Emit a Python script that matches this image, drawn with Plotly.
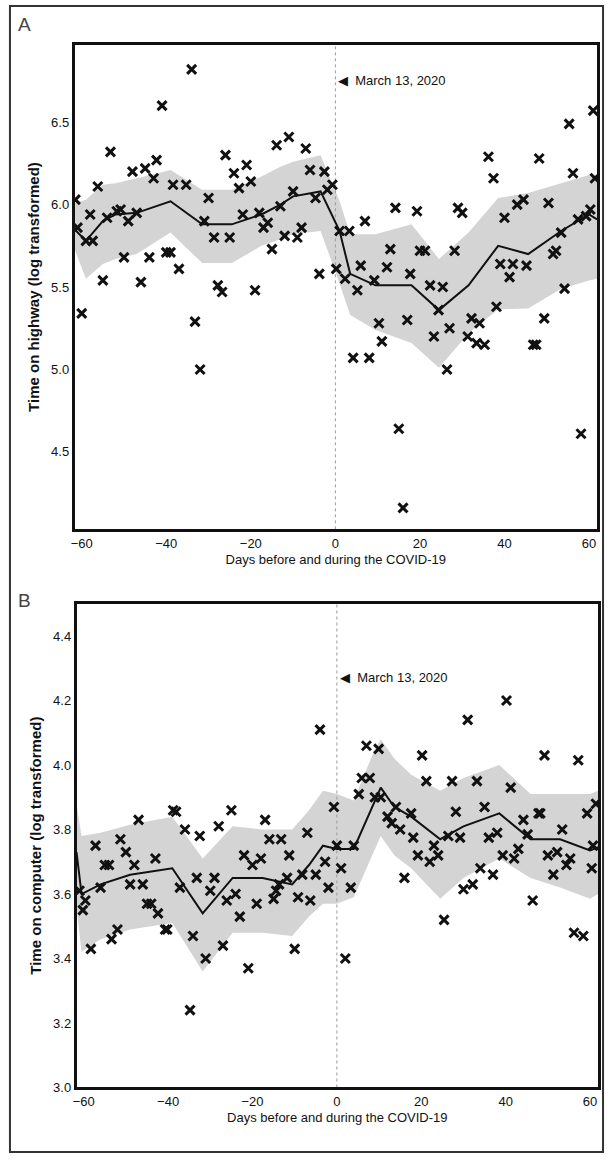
import plotly.graph_objects as go

# ---------------- Panel A: time on highway ----------------
a_days = [-61.5, -61, -60, -59, -58, -57.4, -56.2, -55, -54, -53.2, -51.7, -50.8, -50, -49, -48, -47, -46, -45,
          -44, -43, -42.3, -41, -40, -39, -38.4, -37, -35.3, -34, -33.2, -32, -31, -30, -28.7, -27.8, -26.8, -26,
          -25, -24, -22.8, -21.9, -21, -20, -19, -18, -17, -16, -15, -13.9, -13, -12, -11, -10, -9, -8, -7, -6,
          -4.7, -3.8, -2.6, -1.9, -0.7, 0.2, 1, 2.3, 3.3, 4.2, 5.2, 6, 7, 8, 9.2, 10.3, 11, 12.2, 13, 14.2, 15,
          16, 17, 17.7, 19.3, 20, 21.2, 22.4, 23.3, 24.4, 25.4, 26.4, 27, 28.2, 29, 30, 31.3, 32.2, 33.4, 34.1,
          35.3, 36.2, 37.4, 38.1, 39, 40, 41.2, 42, 43, 44.5, 45.2, 46.8, 47.5, 48.2, 49.4, 50.4, 51.5, 52.2,
          53.4, 54.2, 55.3, 56.2, 57.4, 58.1, 59.3, 60.3, 61, 61.4]
a_vals = [6.03, 5.86, 5.34, 5.78, 5.94, 5.78, 6.11, 5.54, 5.92, 6.32, 5.96, 5.97, 5.68, 5.90, 6.20, 5.95, 5.53, 6.22,
          5.68, 6.16, 6.27, 6.60, 5.71, 5.71, 6.12, 5.61, 6.12, 6.82, 5.29, 5.00, 5.90, 6.04, 5.80, 5.51, 5.47, 6.30,
          5.80, 6.19, 6.10, 5.94, 6.24, 6.14, 5.48, 5.95, 5.86, 5.89, 5.73, 6.36, 5.99, 5.81, 6.41, 6.08, 5.80, 5.86,
          6.34, 6.21, 6.04, 5.58, 6.20, 6.09, 6.12, 5.61, 5.84, 5.55, 5.84, 5.07, 5.48, 5.63, 5.90, 5.07, 5.54, 5.28,
          5.17, 5.62, 5.73, 5.98, 4.64, 4.16, 5.30, 5.58, 5.96, 5.72, 5.72, 5.51, 5.20, 5.36, 5.50, 5.00, 5.25, 5.72,
          5.98, 5.95, 5.20, 5.31, 5.16, 5.28, 5.15, 6.29, 6.16, 5.38, 5.64, 5.92, 5.56, 5.64, 6.00, 6.03, 5.63, 5.15,
          5.15, 6.28, 5.31, 6.01, 5.70, 5.72, 5.83, 5.49, 6.49, 6.19, 5.91, 4.61, 5.93, 5.97, 6.57, 6.16]

a_fit_days = [-61.7, -59, -55, -52, -47, -39, -31.5, -24.5, -17.5, -13, -10, -3.5, 1, 3.5, 9.5, 18, 24.5, 31.5,
              38.5, 45.6, 53.4, 60, 61.9]
a_fit_mean = [5.85, 5.78, 5.90, 5.94, 5.95, 6.02, 5.88, 5.88, 5.94, 6.00, 6.05, 6.08, 5.84, 5.58, 5.51, 5.51, 5.36,
              5.51, 5.75, 5.70, 5.84, 5.94, 5.91]
a_fit_upper = [6.01, 6.03, 6.12, 6.13, 6.16, 6.21, 6.09, 6.09, 6.17, 6.23, 6.26, 6.30, 6.02, 5.82, 5.82, 5.88, 5.67,
               5.83, 6.04, 6.07, 6.13, 6.18, 6.18]
a_fit_lower = [5.73, 5.55, 5.64, 5.67, 5.70, 5.83, 5.645, 5.645, 5.75, 5.79, 5.82, 5.84, 5.52, 5.33, 5.24, 5.16, 5.01,
               5.22, 5.365, 5.37, 5.49, 5.54, 5.55]

# ---------------- Panel B: time on computer ----------------
b_days = [-61, -60.2, -59.6, -58.3, -57.2, -56, -55, -54, -53.4, -52, -51.3, -50, -49, -48, -47, -46, -45, -44,
          -43, -42.4, -40.7, -40.2, -38.8, -38.1, -37.2, -36, -34.8, -34.1, -33.2, -32.5, -31.1, -30, -29, -28, -27,
          -26.1, -25, -24, -23, -22, -21, -20, -19, -18, -17, -16, -15, -14.4, -13.7, -13.2, -11.8, -11.3, -10,
          -9.2, -8.2, -7, -6.3, -5, -4, -2.8, -2, -0.7, 0, 1, 2, 3.3, 4, 5.2, 5.9, 7, 7.8, 9, 9.9, 10.4, 12, 13,
          14, 15, 16, 17.6, 18.1, 19.2, 20.2, 21.2, 22, 23, 24, 25.4, 26.4, 27.3, 28.2, 29.2, 30, 31, 32.2, 33.2,
          34, 35, 36, 37, 38, 39.3, 40.2, 41.2, 42, 43, 44.2, 45.2, 46.4, 47.8, 48.2, 49.2, 50, 51.3, 52.2, 53.4,
          54.4, 55.3, 56.2, 57.2, 58.4, 59.3, 60.4, 60.7, 61.4]
b_vals = [3.61, 3.55, 3.58, 3.43, 3.75, 3.62, 3.69, 3.69, 3.46, 3.49, 3.77, 3.73, 3.63, 3.69, 3.83, 3.63, 3.57, 3.57,
          3.71, 3.54, 3.49, 3.49, 3.86, 3.855, 3.62, 3.80, 3.24, 3.47, 3.65, 3.78, 3.40, 3.61, 3.65, 3.81, 3.44,
          3.58, 3.86, 3.60, 3.53, 3.72, 3.37, 3.69, 3.57, 3.71, 3.83, 3.77, 3.585, 3.61, 3.63, 3.77, 3.65, 3.72,
          3.43, 3.59, 3.66, 3.79, 3.58, 3.66, 4.11, 3.70, 3.62, 3.87, 3.75, 3.68, 3.40, 3.62, 3.75, 3.91, 3.96,
          4.06, 3.96, 3.90, 4.05, 3.90, 3.84, 3.82, 3.87, 3.80, 3.65, 3.85, 3.775, 3.72, 4.03, 3.95, 3.70, 3.75,
          3.72, 3.52, 3.78, 3.95, 3.855, 3.775, 3.615, 4.14, 3.63, 3.95, 3.68, 3.87, 3.775, 3.66, 3.79, 3.72, 4.20,
          3.93, 3.71, 3.74, 3.83, 3.785, 3.58, 3.85, 3.85, 4.03, 3.72, 3.66, 3.73, 3.80, 3.69, 3.71, 3.48, 4.015,
          3.47, 3.85, 3.68, 3.75, 3.88]

b_fit_days = [-61.7, -60.5, -56, -49, -39, -31.8, -24.7, -17.6, -10.6, -6.6, -3.3, 0, 4, 8.7, 10.4, 13.6, 17.6,
              24.5, 30, 38.5, 45.9, 52.9, 60, 61.9]
b_fit_mean = [3.73, 3.60, 3.63, 3.66, 3.68, 3.54, 3.65, 3.65, 3.63, 3.69, 3.75, 3.74, 3.74, 3.88, 3.93, 3.87, 3.84,
              3.77, 3.81, 3.85, 3.77, 3.77, 3.735, 3.745]
b_fit_upper = [3.88, 3.78, 3.79, 3.815, 3.84, 3.71, 3.81, 3.80, 3.80, 3.86, 3.92, 3.91, 3.89, 4.04, 4.08, 4.02, 3.97,
               3.92, 3.96, 4.00, 3.91, 3.91, 3.91, 3.92]
b_fit_lower = [3.56, 3.42, 3.46, 3.49, 3.51, 3.36, 3.48, 3.48, 3.47, 3.53, 3.57, 3.57, 3.59, 3.73, 3.78, 3.72, 3.68,
               3.585, 3.65, 3.71, 3.65, 3.62, 3.585, 3.60]

event_day = 0
event_label = "March 13, 2020"
x_ticks = [-60, -40, -20, 0, 20, 40, 60]
a_y_ticks = [4.5, 5.0, 5.5, 6.0, 6.5]
b_y_ticks = [3.0, 3.2, 3.4, 3.6, 3.8, 4.0, 4.2, 4.4]
x_title = "Days before and during the COVID-19"
a_y_title = "Time on highway (log transformed)"
b_y_title = "Time on computer (log transformed)"

W, H = 608, 1167
X_RANGE = [-61.7, 61.9]
A_RANGE = [4.03, 6.97]
B_RANGE = [3.0, 4.5]

TICK_FONT = dict(family="Liberation Sans Narrow, Arial Narrow, Liberation Sans, Arial", size=13, color="#111")
BAND = "#d4d4d4"

fig = go.Figure()


def add_panel(days, vals, fdays, fmean, fup, flo, rng, xa, ya):
    fig.add_trace(go.Scatter(x=fdays + fdays[::-1], y=fup + flo[::-1], fill="toself", fillcolor=BAND,
                             line=dict(width=0), mode="lines", hoverinfo="skip", showlegend=False,
                             xaxis=xa, yaxis=ya))
    fig.add_trace(go.Scatter(x=[event_day, event_day], y=rng, mode="lines",
                             line=dict(color="#9a9a9a", width=1, dash="dot"), showlegend=False,
                             xaxis=xa, yaxis=ya))
    fig.add_trace(go.Scatter(x=fdays, y=fmean, mode="lines", line=dict(color="#111", width=2),
                             showlegend=False, xaxis=xa, yaxis=ya))
    fig.add_trace(go.Scatter(x=days, y=vals, mode="markers",
                             marker=dict(symbol="x-thin", size=9, line=dict(color="#111", width=3)),
                             showlegend=False, xaxis=xa, yaxis=ya))


add_panel(a_days, a_vals, a_fit_days, a_fit_mean, a_fit_upper, a_fit_lower, A_RANGE, "x", "y")
add_panel(b_days, b_vals, b_fit_days, b_fit_mean, b_fit_upper, b_fit_lower, B_RANGE, "x2", "y2")

axis_common = dict(showline=True, mirror=True, linecolor="#111", linewidth=2.5, showgrid=False,
                   zeroline=False, ticks="", tickfont=TICK_FONT)

fig.update_layout(
    width=W, height=H, margin=dict(l=0, r=0, t=0, b=0),
    paper_bgcolor="white", plot_bgcolor="white",
    xaxis=dict(domain=[71 / W, 597 / W], range=X_RANGE, tickvals=x_ticks, anchor="y",
               title=dict(text=x_title, font=dict(family="Liberation Sans", size=13, color="#111"), standoff=6),
               **axis_common),
    yaxis=dict(domain=[1 - 533 / H, 1 - 45 / H], range=A_RANGE, tickvals=a_y_ticks, tickformat=".1f",
               anchor="x",
               title=dict(text=a_y_title, font=dict(family="Liberation Sans", size=15, color="#111",
                                                       weight="bold"), standoff=8),
               **axis_common),
    xaxis2=dict(domain=[73 / W, 598 / W], range=X_RANGE, tickvals=x_ticks, anchor="y2",
                title=dict(text=x_title, font=dict(family="Liberation Sans", size=13, color="#111"), standoff=6),
                **axis_common),
    yaxis2=dict(domain=[1 - 1095 / H, 1 - 608 / H], range=B_RANGE, tickvals=b_y_ticks, tickformat=".1f",
                anchor="x2",
                title=dict(text=b_y_title, font=dict(family="Liberation Sans", size=15, color="#111",
                                                        weight="bold"), standoff=8),
                **axis_common),
)

for xa, ya, yv in [("x", "y", 6.75), ("x2", "y2", 4.27)]:
    fig.add_annotation(x=event_day, y=yv, xref=xa, yref=ya, xanchor="left", yanchor="middle", showarrow=False,
                       text="◀  " + event_label, xshift=1,
                       font=dict(family="Liberation Sans Narrow, Arial Narrow, Liberation Sans", size=13,
                                 color="#111"))

for label, ypx in [("A", 25), ("B", 605)]:
    fig.add_annotation(x=12 / W, y=1 - ypx / H, xref="paper", yref="paper", xanchor="left", yanchor="middle",
                       showarrow=False, text=label,
                       font=dict(family="Liberation Sans", size=19, color="#444"))

fig.add_shape(type="rect", xref="paper", yref="paper", x0=6 / W, x1=603 / W, y0=1 - 1160 / H, y1=1 - 6 / H,
              line=dict(color="#333", width=2), fillcolor="rgba(0,0,0,0)", layer="above")

fig.write_html("out.html", config={"displayModeBar": False},
               post_script="document.body.style.margin='0';document.body.style.overflow='hidden';")
